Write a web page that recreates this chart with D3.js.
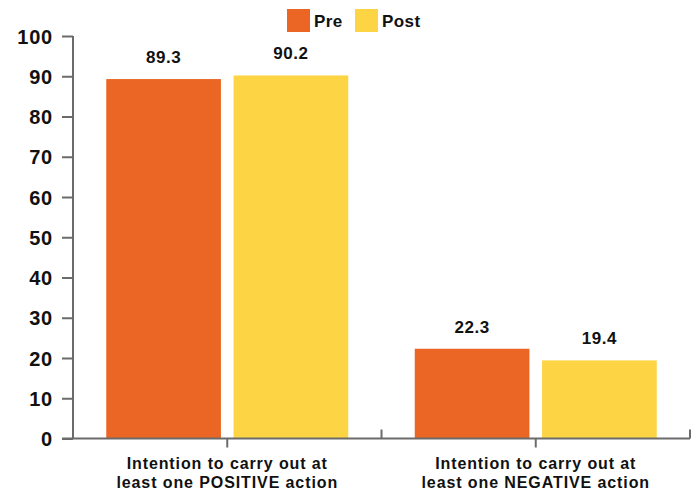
<!doctype html>
<html>
  <head>
    <script src="https://cdn.jsdelivr.net/npm/d3@7/dist/d3.min.js"></script>
    <style>
    body { margin: 0; background: #fff; }
    text { font-family: "Liberation Sans", Arial, sans-serif; font-weight: bold; fill: #111; }
    .axis path, .axis line { stroke: #6b6b6b; stroke-width: 2; }
    </style>
  </head>
  <body>
    <svg id="chart" width="699" height="490"></svg>
    <script>
      var categories = [
        ["Intention to carry out at", "least one POSITIVE action"],
        ["Intention to carry out at", "least one NEGATIVE action"]
      ];
      var seriesNames = ["Pre", "Post"];
      var preValues = [89.3, 22.3];
      var postValues = [90.2, 19.4];
      var yTicks = [0, 10, 20, 30, 40, 50, 60, 70, 80, 90, 100];
      var colors = ["#eb6625", "#fdd444"];

      var svg = d3.select("#chart");
      var mLeft = 73, mRight = 690, mTop = 36, mBottom = 438.5;

      var x0 = d3.scaleBand().domain([0, 1]).range([mLeft, mRight]).padding(0);
      // bars are 115 wide with 12 gap, centred in each band
      var innerW = 2 * 115 + 12;
      var x1 = d3.scaleBand().domain(seriesNames)
        .range([(x0.bandwidth() - innerW) / 2, (x0.bandwidth() + innerW) / 2])
        .paddingInner(12 / 121).paddingOuter(0);

      var y = d3.scaleLinear().domain([0, 100]).range([mBottom, mTop]);

      var data = [0, 1].map(i => ({ i: i, vals: [preValues[i], postValues[i]] }));

      var groups = svg.selectAll("g.grp")
        .data(data)
        .enter()
        .append("g")
          .attr("class", "grp")
          .attr("transform", d => `translate(${x0(d.i)},0)`);

      groups.selectAll("rect")
        .data(d => d.vals.map((v, k) => ({ name: seriesNames[k], v: v, k: k })))
        .enter()
        .append("rect")
          .attr("x", d => x1(d.name))
          .attr("width", x1.bandwidth())
          .attr("y", d => y(d.v))
          .attr("height", d => mBottom - y(d.v))
          .style("fill", d => colors[d.k]);

      groups.selectAll("text.val")
        .data(d => d.vals.map((v, k) => ({ name: seriesNames[k], v: v, k: k })))
        .enter()
        .append("text")
          .attr("class", "val")
          .attr("x", d => x1(d.name) + x1.bandwidth() / 2)
          .attr("y", d => y(d.v) - 16)
          .attr("text-anchor", "middle")
          .style("font-size", "17px")
          .style("letter-spacing", "0.5px")
          .text(d => d.v.toFixed(1));

      // y axis
      var yAxis = svg.append("g")
        .attr("class", "axis")
        .attr("transform", `translate(${mLeft},0)`)
        .call(d3.axisLeft(y).tickValues(yTicks).tickSize(11).tickPadding(9).tickSizeOuter(0));
      yAxis.selectAll("text").style("font-size", "20px").style("letter-spacing", "0.8px").attr("dy", "0.36em");
      yAxis.select(".domain").remove();
      yAxis.append("line")
        .attr("x1", 0).attr("x2", 0)
        .attr("y1", mTop).attr("y2", mBottom);

      // x axis line with boundary ticks (up) and centre ticks (down)
      var xAxis = svg.append("g").attr("class", "axis");
      xAxis.append("line")
        .attr("x1", mLeft - 11).attr("x2", mRight)
        .attr("y1", mBottom).attr("y2", mBottom);
      xAxis.selectAll("line.bound")
        .data([1, 2])
        .enter()
        .append("line")
          .attr("class", "bound")
          .attr("x1", d => x0.range()[0] + d * x0.bandwidth())
          .attr("x2", d => x0.range()[0] + d * x0.bandwidth())
          .attr("y1", mBottom).attr("y2", mBottom - 9);
      xAxis.selectAll("line.mid")
        .data([0, 1])
        .enter()
        .append("line")
          .attr("class", "mid")
          .attr("x1", d => x0(d) + x0.bandwidth() / 2)
          .attr("x2", d => x0(d) + x0.bandwidth() / 2)
          .attr("y1", mBottom).attr("y2", mBottom + 9);

      var catLabels = svg.selectAll("text.cat")
        .data([0, 1])
        .enter()
        .append("text")
          .attr("class", "cat")
          .attr("text-anchor", "middle")
          .style("font-size", "16px")
          .style("letter-spacing", "0.9px");
      catLabels.selectAll("tspan")
        .data(d => categories[d].map(line => ({ d: d, line: line })))
        .enter()
        .append("tspan")
          .attr("x", t => x0(t.d) + x0.bandwidth() / 2)
          .attr("y", (t, j) => 469 + j * 19)
          .text(t => t.line);

      // legend
      var legend = svg.append("g");
      var legX = [287, 355];
      seriesNames.forEach((name, k) => {
        legend.append("rect")
          .attr("x", legX[k]).attr("y", 9)
          .attr("width", 23).attr("height", 23)
          .style("fill", colors[k]);
        legend.append("text")
          .attr("x", legX[k] + 27).attr("y", 27)
          .style("font-size", "17px")
          .style("letter-spacing", "0.4px")
          .text(name);
      });
    </script>
  </body>
</html>
